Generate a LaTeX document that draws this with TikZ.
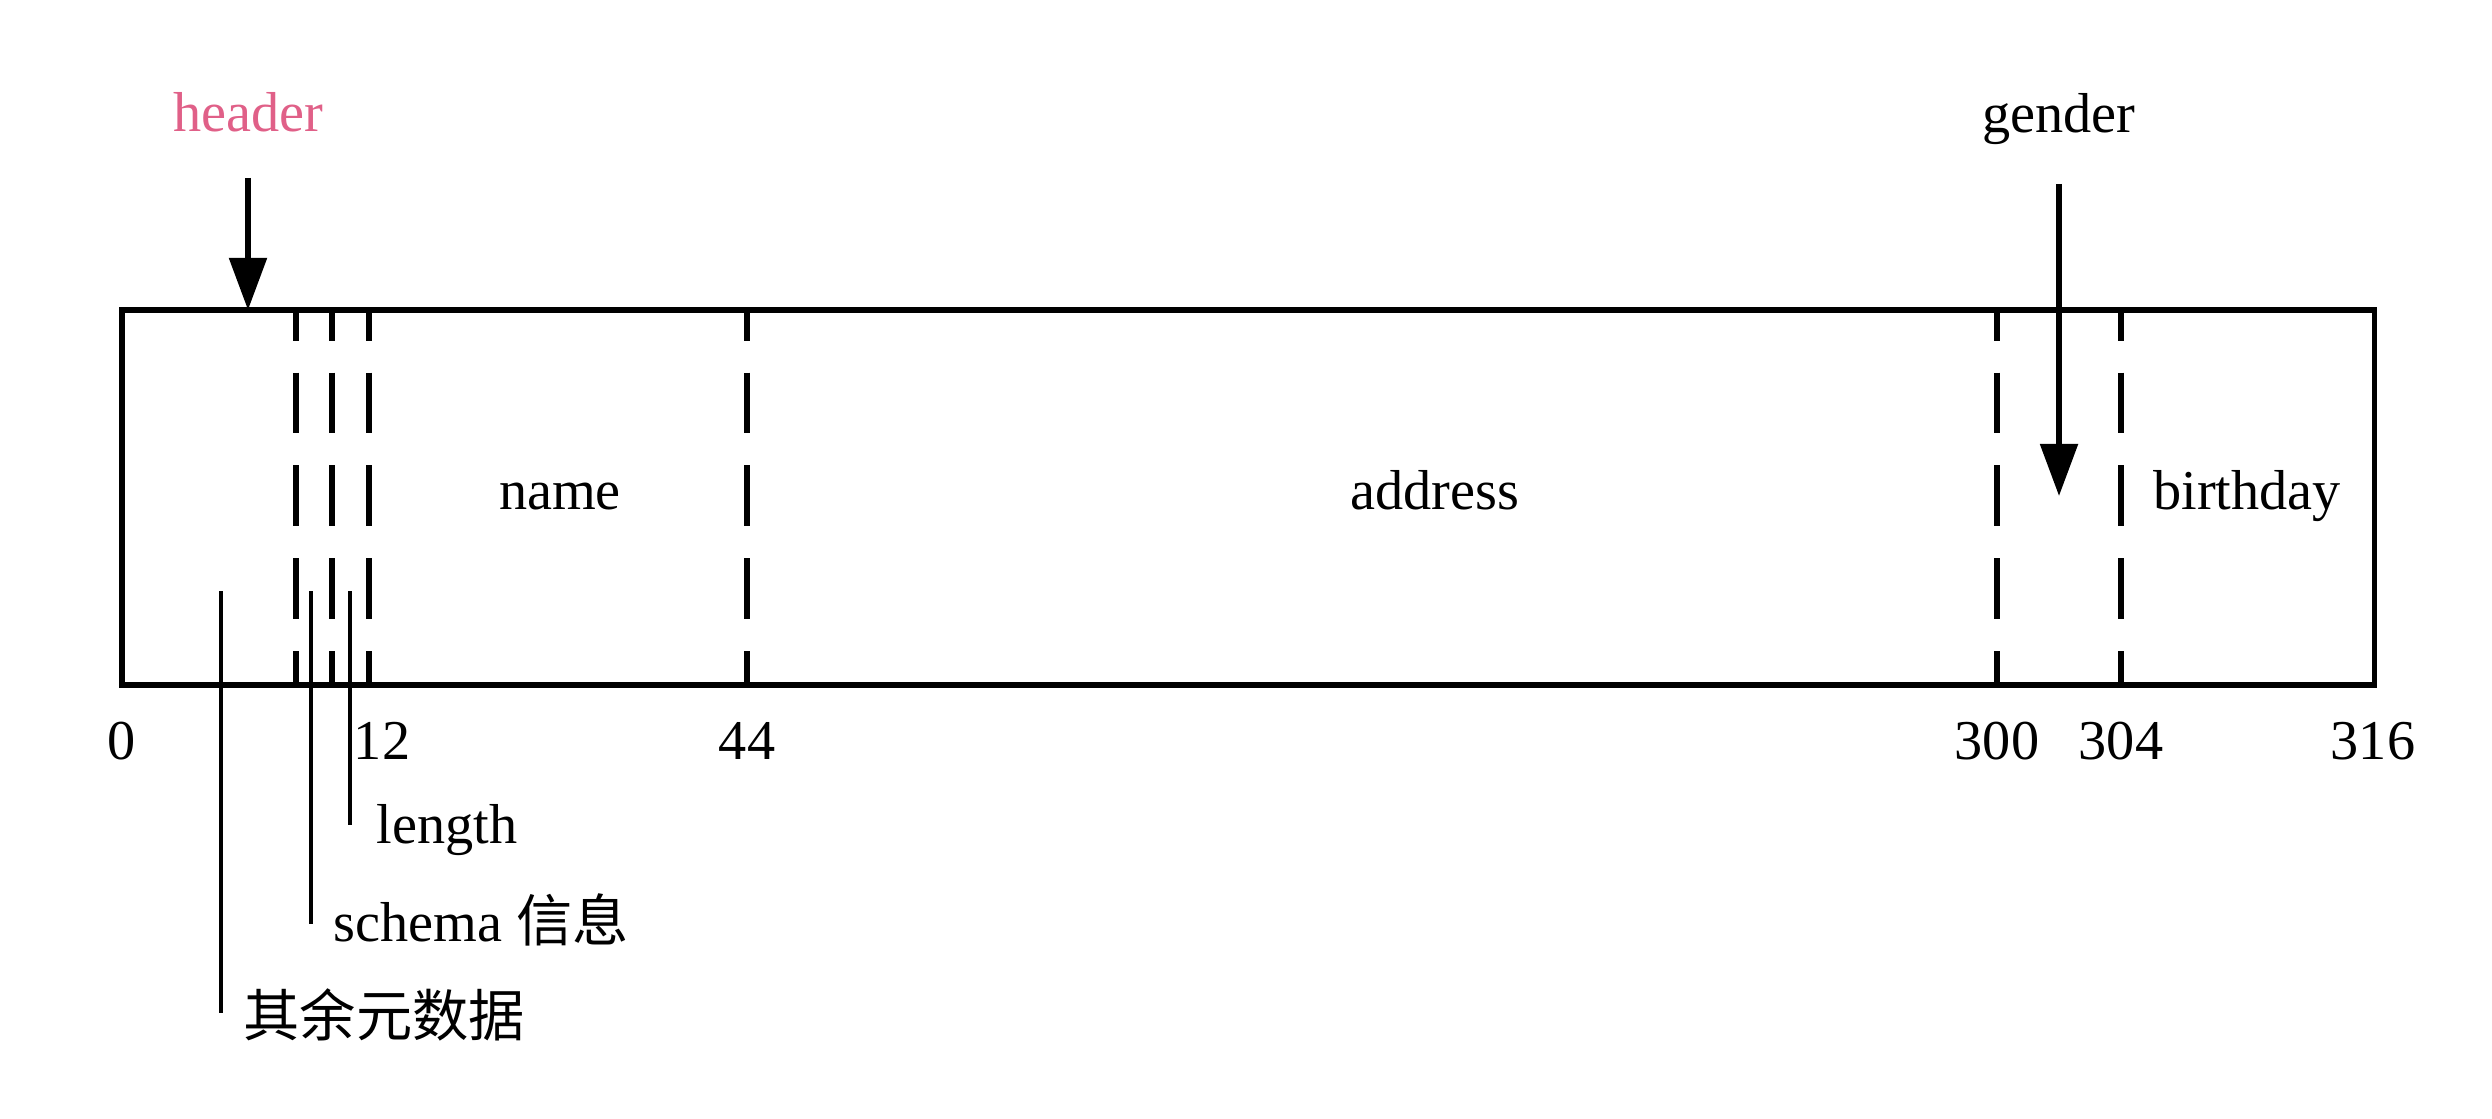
\documentclass[tikz,border=0pt]{standalone}
\usepackage{fontspec}
\setmainfont{Liberation Serif}
\newfontfamily\cjk{Noto Sans CJK SC}
\usetikzlibrary{arrows.meta}
\definecolor{headercol}{RGB}{224,96,136}
\begin{document}
\begin{tikzpicture}[x=0.01cm,y=-0.01cm,
  txt/.style={font=\fontsize{16}{19}\selectfont, inner sep=0pt},
  boxline/.style={line width=1.6pt},
  divider/.style={line width=1.5pt, dash pattern=on 17.3pt off 9.1pt, dash phase=8.6pt},
  leader/.style={line width=0.9pt},
  pointer/.style={line width=1.6pt, -{Triangle[length=14.8pt,width=10.5pt]}}]
\useasboundingbox (0,0) rectangle (2492,1119);
% record box
\node[draw, boxline, inner sep=0pt, outer sep=0pt, minimum width=22.51cm, minimum height=3.75cm, anchor=north west] (rec) at (122,310) {};
% dividers
\foreach \nm/\x in {d1/296, d2/332, d3/369, d4/747, d5/1997, d6/2121}{
  \coordinate (\nm) at (\x,310);
  \draw[divider] (\nm) -- (\nm |- rec.south);
}
% field labels
\node[txt, anchor=base] (fname) at (560,509) {name};
\node[txt, anchor=base] (faddr) at (1435,509) {address};
\node[txt, anchor=base] (fbirth) at (2247,509) {birthday};
% offsets
\node[txt, anchor=base] (o0) at (122,759) {0};
\node[txt, anchor=base] (o12) at (382,759) {12};
\node[txt, anchor=base] (o44) at (747,759) {44};
\node[txt, anchor=base] (o300) at (1997,759) {300};
\node[txt, anchor=base] (o304) at (2121,759) {304};
\node[txt, anchor=base] (o316) at (2373,759) {316};
% header pointer
\node[txt, anchor=base, text=headercol] (hdr) at (248,132) {header};
\coordinate (hdrtop) at (248,178);
\draw[pointer] (hdrtop) -- (hdrtop |- rec.north);
% gender pointer
\node[txt, anchor=base] (gen) at (2059,133) {gender};
\coordinate (gtop) at (2059,184);
\coordinate (gtip) at (2059,496);
\draw[pointer] (gtop) -- (gtip);
% leaders
\coordinate (l1top) at (221,591);
\coordinate (l1end) at (221,1013);
\coordinate (l2top) at (311,591);
\coordinate (l2end) at (311,924);
\coordinate (l3top) at (350,591);
\coordinate (l3end) at (350,825);
\draw[leader] (l1top) -- (l1end);
\draw[leader] (l2top) -- (l2end);
\draw[leader] (l3top) -- (l3end);
\node[txt, anchor=base west] (llen) at (376,843) {length};
\node[txt, anchor=base west] (lschema) at (333,941) {schema {\cjk 信息}};
\node[txt, anchor=base west] (lmeta) at (243,1036) {\cjk 其余元数据};
\end{tikzpicture}
\end{document}
